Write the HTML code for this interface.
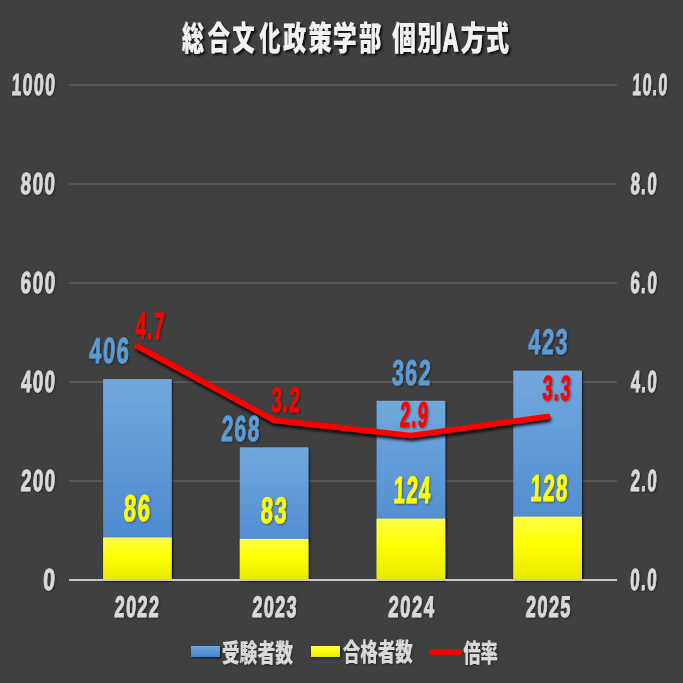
<!DOCTYPE html>
<html><head><meta charset="utf-8"><style>
html,body{margin:0;padding:0;background:#404040;}
svg{display:block;will-change:transform;}
</style></head><body>
<svg width="683" height="683" viewBox="0 0 683 683">
<defs>
<linearGradient id="gb" x1="0" y1="0" x2="0" y2="1">
<stop offset="0" stop-color="#71a8dd"/><stop offset="1" stop-color="#4483cc"/>
</linearGradient>
<linearGradient id="gy" x1="0" y1="0" x2="0" y2="1">
<stop offset="0" stop-color="#ffff48"/><stop offset="0.45" stop-color="#ffff00"/><stop offset="1" stop-color="#e8e800"/>
</linearGradient>
<filter id="sh" x="-20%" y="-20%" width="140%" height="160%">
<feGaussianBlur in="SourceAlpha" stdDeviation="1.3"/>
<feOffset dx="0.5" dy="1.2" result="o"/>
<feComponentTransfer><feFuncA type="linear" slope="0.75"/></feComponentTransfer>
<feMerge><feMergeNode/><feMergeNode in="SourceGraphic"/></feMerge>
</filter>
<filter id="lsh" x="-20%" y="-20%" width="140%" height="160%">
<feGaussianBlur in="SourceAlpha" stdDeviation="1.2"/>
<feOffset dx="0.8" dy="1.2" result="o"/>
<feComponentTransfer><feFuncA type="linear" slope="0.45"/></feComponentTransfer>
<feMerge><feMergeNode/><feMergeNode in="SourceGraphic"/></feMerge>
</filter>
<filter id="linesh" x="-10%" y="-30%" width="120%" height="160%">
<feGaussianBlur in="SourceAlpha" stdDeviation="1.6"/>
<feOffset dx="0.5" dy="2.5" result="o"/>
<feComponentTransfer><feFuncA type="linear" slope="0.85"/></feComponentTransfer>
<feMerge><feMergeNode/><feMergeNode in="SourceGraphic"/></feMerge>
</filter>
<filter id="tsh" x="-10%" y="-20%" width="120%" height="150%">
<feGaussianBlur in="SourceAlpha" stdDeviation="1"/>
<feOffset dx="2" dy="2" result="o"/>
<feComponentTransfer><feFuncA type="linear" slope="0.8"/></feComponentTransfer>
<feMerge><feMergeNode/><feMergeNode in="SourceGraphic"/></feMerge>
</filter>
</defs>
<rect x="0" y="0" width="683" height="683" fill="#404040"/>

<rect x="69" y="480.00" width="548" height="2" fill="#575757"/>
<rect x="69" y="381.00" width="548" height="2" fill="#575757"/>
<rect x="69" y="282.00" width="548" height="2" fill="#575757"/>
<rect x="69" y="183.00" width="548" height="2" fill="#575757"/>
<rect x="69" y="84.00" width="548" height="2" fill="#575757"/>
<rect x="103.10" y="379.03" width="68.6" height="200.97" fill="url(#gb)" filter="url(#sh)"/>
<rect x="239.80" y="447.34" width="68.6" height="132.66" fill="url(#gb)" filter="url(#sh)"/>
<rect x="376.60" y="400.81" width="68.6" height="179.19" fill="url(#gb)" filter="url(#sh)"/>
<rect x="513.30" y="370.62" width="68.6" height="209.38" fill="url(#gb)" filter="url(#sh)"/>
<rect x="103.10" y="537.43" width="68.6" height="42.57" fill="url(#gy)" filter="url(#sh)"/>
<rect x="239.80" y="538.91" width="68.6" height="41.09" fill="url(#gy)" filter="url(#sh)"/>
<rect x="376.60" y="518.62" width="68.6" height="61.38" fill="url(#gy)" filter="url(#sh)"/>
<rect x="513.30" y="516.64" width="68.6" height="63.36" fill="url(#gy)" filter="url(#sh)"/>
<rect x="69" y="579" width="548" height="2" fill="#c6c6c6"/>
<polyline points="137.40,346.31 274.10,420.17 410.90,435.49 547.60,416.42" fill="none" stroke="#ff0000" stroke-width="5.6" stroke-linejoin="round" stroke-linecap="round" filter="url(#linesh)"/>
<rect x="191" y="646" width="29" height="11" fill="url(#gb)" filter="url(#sh)"/>
<rect x="311" y="646" width="29" height="11" fill="url(#gy)" filter="url(#sh)"/>
<line x1="432" y1="652" x2="459" y2="652" stroke="#ff0000" stroke-width="6" stroke-linecap="round"/>
<g filter="url(#lsh)"><g transform="translate(11.15,95.35) skewX(-2.5) translate(-11.15,-95.35)"><text x="11.15" y="95.35" font-size="30.571" fill="#d9d9d9" font-weight="bold" stroke="#d9d9d9" stroke-width="1.0" stroke-linejoin="round" textLength="44.848" lengthAdjust="spacingAndGlyphs" style='font-family:"Liberation Sans", "DejaVu Sans", sans-serif;letter-spacing:2.5px;'>1000</text></g></g>
<g filter="url(#lsh)"><g transform="translate(20.20,194.35) skewX(-2.5) translate(-20.20,-194.35)"><text x="20.20" y="194.35" font-size="30.571" fill="#d9d9d9" font-weight="bold" stroke="#d9d9d9" stroke-width="1.0" stroke-linejoin="round" textLength="35.860" lengthAdjust="spacingAndGlyphs" style='font-family:"Liberation Sans", "DejaVu Sans", sans-serif;letter-spacing:2.5px;'>800</text></g></g>
<g filter="url(#lsh)"><g transform="translate(20.25,293.35) skewX(-2.5) translate(-20.25,-293.35)"><text x="20.25" y="293.35" font-size="30.571" fill="#d9d9d9" font-weight="bold" stroke="#d9d9d9" stroke-width="1.0" stroke-linejoin="round" textLength="35.894" lengthAdjust="spacingAndGlyphs" style='font-family:"Liberation Sans", "DejaVu Sans", sans-serif;letter-spacing:2.5px;'>600</text></g></g>
<g filter="url(#lsh)"><g transform="translate(20.75,392.35) skewX(-2.5) translate(-20.75,-392.35)"><text x="20.75" y="392.35" font-size="30.571" fill="#d9d9d9" font-weight="bold" stroke="#d9d9d9" stroke-width="1.0" stroke-linejoin="round" textLength="35.333" lengthAdjust="spacingAndGlyphs" style='font-family:"Liberation Sans", "DejaVu Sans", sans-serif;letter-spacing:2.5px;'>400</text></g></g>
<g filter="url(#lsh)"><g transform="translate(20.55,491.35) skewX(-2.5) translate(-20.55,-491.35)"><text x="20.55" y="491.35" font-size="30.571" fill="#d9d9d9" font-weight="bold" stroke="#d9d9d9" stroke-width="1.0" stroke-linejoin="round" textLength="35.582" lengthAdjust="spacingAndGlyphs" style='font-family:"Liberation Sans", "DejaVu Sans", sans-serif;letter-spacing:2.5px;'>200</text></g></g>
<g filter="url(#lsh)"><g transform="translate(42.80,590.35) skewX(-2.5) translate(-42.80,-590.35)"><text x="42.80" y="590.35" font-size="30.571" fill="#d9d9d9" font-weight="bold" stroke="#d9d9d9" stroke-width="1.0" stroke-linejoin="round" textLength="13.525" lengthAdjust="spacingAndGlyphs" style='font-family:"Liberation Sans", "DejaVu Sans", sans-serif;letter-spacing:2.5px;'>0</text></g></g>
<g filter="url(#lsh)"><g transform="translate(632.05,95.35) skewX(-2.5) translate(-632.05,-95.35)"><text x="632.05" y="95.35" font-size="30.571" fill="#d9d9d9" font-weight="bold" stroke="#d9d9d9" stroke-width="1.0" stroke-linejoin="round" textLength="36.095" lengthAdjust="spacingAndGlyphs" style='font-family:"Liberation Sans", "DejaVu Sans", sans-serif;letter-spacing:2.5px;'>10.0</text></g></g>
<g filter="url(#lsh)"><g transform="translate(630.20,194.35) skewX(-2.5) translate(-630.20,-194.35)"><text x="630.20" y="194.35" font-size="30.571" fill="#d9d9d9" font-weight="bold" stroke="#d9d9d9" stroke-width="1.0" stroke-linejoin="round" textLength="27.361" lengthAdjust="spacingAndGlyphs" style='font-family:"Liberation Sans", "DejaVu Sans", sans-serif;letter-spacing:2.5px;'>8.0</text></g></g>
<g filter="url(#lsh)"><g transform="translate(629.95,293.35) skewX(-2.5) translate(-629.95,-293.35)"><text x="629.95" y="293.35" font-size="30.571" fill="#d9d9d9" font-weight="bold" stroke="#d9d9d9" stroke-width="1.0" stroke-linejoin="round" textLength="27.897" lengthAdjust="spacingAndGlyphs" style='font-family:"Liberation Sans", "DejaVu Sans", sans-serif;letter-spacing:2.5px;'>6.0</text></g></g>
<g filter="url(#lsh)"><g transform="translate(630.45,392.35) skewX(-2.5) translate(-630.45,-392.35)"><text x="630.45" y="392.35" font-size="30.571" fill="#d9d9d9" font-weight="bold" stroke="#d9d9d9" stroke-width="1.0" stroke-linejoin="round" textLength="27.328" lengthAdjust="spacingAndGlyphs" style='font-family:"Liberation Sans", "DejaVu Sans", sans-serif;letter-spacing:2.5px;'>4.0</text></g></g>
<g filter="url(#lsh)"><g transform="translate(630.35,491.35) skewX(-2.5) translate(-630.35,-491.35)"><text x="630.35" y="491.35" font-size="30.571" fill="#d9d9d9" font-weight="bold" stroke="#d9d9d9" stroke-width="1.0" stroke-linejoin="round" textLength="27.327" lengthAdjust="spacingAndGlyphs" style='font-family:"Liberation Sans", "DejaVu Sans", sans-serif;letter-spacing:2.5px;'>2.0</text></g></g>
<g filter="url(#lsh)"><g transform="translate(629.85,590.35) skewX(-2.5) translate(-629.85,-590.35)"><text x="629.85" y="590.35" font-size="30.571" fill="#d9d9d9" font-weight="bold" stroke="#d9d9d9" stroke-width="1.0" stroke-linejoin="round" textLength="27.896" lengthAdjust="spacingAndGlyphs" style='font-family:"Liberation Sans", "DejaVu Sans", sans-serif;letter-spacing:2.5px;'>0.0</text></g></g>
<g filter="url(#lsh)"><g transform="translate(114.35,617.10) skewX(-2.5) translate(-114.35,-617.10)"><text x="114.35" y="617.10" font-size="29.895" fill="#d9d9d9" font-weight="bold" stroke="#d9d9d9" stroke-width="1.1" stroke-linejoin="round" textLength="45.553" lengthAdjust="spacingAndGlyphs" style='font-family:"Liberation Sans", "DejaVu Sans", sans-serif;letter-spacing:2.5px;'>2022</text></g></g>
<g filter="url(#lsh)"><g transform="translate(252.05,616.85) skewX(-2.5) translate(-252.05,-616.85)"><text x="252.05" y="616.85" font-size="29.557" fill="#d9d9d9" font-weight="bold" stroke="#d9d9d9" stroke-width="1.1" stroke-linejoin="round" textLength="45.562" lengthAdjust="spacingAndGlyphs" style='font-family:"Liberation Sans", "DejaVu Sans", sans-serif;letter-spacing:2.5px;'>2023</text></g></g>
<g filter="url(#lsh)"><g transform="translate(387.95,617.10) skewX(-2.5) translate(-387.95,-617.10)"><text x="387.95" y="617.10" font-size="29.895" fill="#d9d9d9" font-weight="bold" stroke="#d9d9d9" stroke-width="1.1" stroke-linejoin="round" textLength="47.285" lengthAdjust="spacingAndGlyphs" style='font-family:"Liberation Sans", "DejaVu Sans", sans-serif;letter-spacing:2.5px;'>2024</text></g></g>
<g filter="url(#lsh)"><g transform="translate(525.55,617.10) skewX(-2.5) translate(-525.55,-617.10)"><text x="525.55" y="617.10" font-size="29.895" fill="#d9d9d9" font-weight="bold" stroke="#d9d9d9" stroke-width="1.1" stroke-linejoin="round" textLength="46.052" lengthAdjust="spacingAndGlyphs" style='font-family:"Liberation Sans", "DejaVu Sans", sans-serif;letter-spacing:2.5px;'>2025</text></g></g>
<g filter="url(#lsh)"><g transform="translate(88.75,363.05) skewX(-2.5) translate(-88.75,-363.05)"><text x="88.75" y="363.05" font-size="36.122" fill="#5b9bd5" font-weight="bold" stroke="#5b9bd5" stroke-width="0.9" stroke-linejoin="round" textLength="41.081" lengthAdjust="spacingAndGlyphs" style='font-family:"Liberation Sans", "DejaVu Sans", sans-serif;letter-spacing:2.5px;'>406</text></g></g>
<g filter="url(#lsh)"><g transform="translate(220.90,440.85) skewX(-2.5) translate(-220.90,-440.85)"><text x="220.90" y="440.85" font-size="36.122" fill="#5b9bd5" font-weight="bold" stroke="#5b9bd5" stroke-width="0.9" stroke-linejoin="round" textLength="39.599" lengthAdjust="spacingAndGlyphs" style='font-family:"Liberation Sans", "DejaVu Sans", sans-serif;letter-spacing:2.5px;'>268</text></g></g>
<g filter="url(#lsh)"><g transform="translate(391.50,385.00) skewX(-2.5) translate(-391.50,-385.00)"><text x="391.50" y="385.00" font-size="35.788" fill="#5b9bd5" font-weight="bold" stroke="#5b9bd5" stroke-width="0.9" stroke-linejoin="round" textLength="40.098" lengthAdjust="spacingAndGlyphs" style='font-family:"Liberation Sans", "DejaVu Sans", sans-serif;letter-spacing:2.5px;'>362</text></g></g>
<g filter="url(#lsh)"><g transform="translate(528.05,353.80) skewX(-2.5) translate(-528.05,-353.80)"><text x="528.05" y="353.80" font-size="35.788" fill="#5b9bd5" font-weight="bold" stroke="#5b9bd5" stroke-width="0.9" stroke-linejoin="round" textLength="40.573" lengthAdjust="spacingAndGlyphs" style='font-family:"Liberation Sans", "DejaVu Sans", sans-serif;letter-spacing:2.5px;'>423</text></g></g>
<g filter="url(#lsh)"><g transform="translate(123.35,521.30) skewX(-2.5) translate(-123.35,-521.30)"><text x="123.35" y="521.30" font-size="37.163" fill="#ffff00" font-weight="bold" stroke="#ffff00" stroke-width="0.9" stroke-linejoin="round" textLength="27.695" lengthAdjust="spacingAndGlyphs" style='font-family:"Liberation Sans", "DejaVu Sans", sans-serif;letter-spacing:2.5px;'>86</text></g></g>
<g filter="url(#lsh)"><g transform="translate(260.25,523.15) skewX(-2.5) translate(-260.25,-523.15)"><text x="260.25" y="523.15" font-size="36.827" fill="#ffff00" font-weight="bold" stroke="#ffff00" stroke-width="0.9" stroke-linejoin="round" textLength="27.448" lengthAdjust="spacingAndGlyphs" style='font-family:"Liberation Sans", "DejaVu Sans", sans-serif;letter-spacing:2.5px;'>83</text></g></g>
<g filter="url(#lsh)"><g transform="translate(393.20,503.10) skewX(-2.5) translate(-393.20,-503.10)"><text x="393.20" y="503.10" font-size="37.854" fill="#ffff00" font-weight="bold" stroke="#ffff00" stroke-width="0.9" stroke-linejoin="round" textLength="38.089" lengthAdjust="spacingAndGlyphs" style='font-family:"Liberation Sans", "DejaVu Sans", sans-serif;letter-spacing:2.5px;'>124</text></g></g>
<g filter="url(#lsh)"><g transform="translate(530.00,501.25) skewX(-2.5) translate(-530.00,-501.25)"><text x="530.00" y="501.25" font-size="37.512" fill="#ffff00" font-weight="bold" stroke="#ffff00" stroke-width="0.9" stroke-linejoin="round" textLength="38.383" lengthAdjust="spacingAndGlyphs" style='font-family:"Liberation Sans", "DejaVu Sans", sans-serif;letter-spacing:2.5px;'>128</text></g></g>
<g filter="url(#lsh)"><g transform="translate(135.05,338.90) skewX(-2.5) translate(-135.05,-338.90)"><text x="135.05" y="338.90" font-size="37.852" fill="#ff0000" font-weight="bold" stroke="#ff0000" stroke-width="0.9" stroke-linejoin="round" textLength="29.778" lengthAdjust="spacingAndGlyphs" style='font-family:"Liberation Sans", "DejaVu Sans", sans-serif;letter-spacing:2.5px;'>4.7</text></g></g>
<g filter="url(#lsh)"><g transform="translate(271.00,411.85) skewX(-2.5) translate(-271.00,-411.85)"><text x="271.00" y="411.85" font-size="35.433" fill="#ff0000" font-weight="bold" stroke="#ff0000" stroke-width="0.9" stroke-linejoin="round" textLength="29.601" lengthAdjust="spacingAndGlyphs" style='font-family:"Liberation Sans", "DejaVu Sans", sans-serif;letter-spacing:2.5px;'>3.2</text></g></g>
<g filter="url(#lsh)"><g transform="translate(399.50,426.70) skewX(-2.5) translate(-399.50,-426.70)"><text x="399.50" y="426.70" font-size="35.773" fill="#ff0000" font-weight="bold" stroke="#ff0000" stroke-width="0.9" stroke-linejoin="round" textLength="29.324" lengthAdjust="spacingAndGlyphs" style='font-family:"Liberation Sans", "DejaVu Sans", sans-serif;letter-spacing:2.5px;'>2.9</text></g></g>
<g filter="url(#lsh)"><g transform="translate(542.00,399.95) skewX(-2.5) translate(-542.00,-399.95)"><text x="542.00" y="399.95" font-size="34.748" fill="#ff0000" font-weight="bold" stroke="#ff0000" stroke-width="0.9" stroke-linejoin="round" textLength="29.601" lengthAdjust="spacingAndGlyphs" style='font-family:"Liberation Sans", "DejaVu Sans", sans-serif;letter-spacing:2.5px;'>3.3</text></g></g>
<g filter="url(#lsh)"><text x="221.75" y="661.50" font-size="24.480" fill="#d9d9d9" font-weight="900" textLength="71.262" lengthAdjust="spacingAndGlyphs" style='font-family:"Liberation Sans", "Noto Sans CJK JP", sans-serif;'>受験者数</text></g>
<g filter="url(#lsh)"><text x="342.75" y="661.45" font-size="24.737" fill="#d9d9d9" font-weight="900" textLength="70.004" lengthAdjust="spacingAndGlyphs" style='font-family:"Liberation Sans", "Noto Sans CJK JP", sans-serif;'>合格者数</text></g>
<g filter="url(#lsh)"><text x="463.20" y="661.70" font-size="25.001" fill="#d9d9d9" font-weight="900" textLength="34.762" lengthAdjust="spacingAndGlyphs" style='font-family:"Liberation Sans", "Noto Sans CJK JP", sans-serif;'>倍率</text></g>
<g filter="url(#tsh)"><text x="181.75" y="49.95" font-size="32.650" fill="#f2f2f2" font-weight="900" textLength="22.263" lengthAdjust="spacingAndGlyphs" style='font-family:"Liberation Sans", "Noto Sans CJK JP", sans-serif;'>総</text></g>
<g filter="url(#tsh)"><text x="207.55" y="49.95" font-size="32.650" fill="#f2f2f2" font-weight="900" textLength="22.514" lengthAdjust="spacingAndGlyphs" style='font-family:"Liberation Sans", "Noto Sans CJK JP", sans-serif;'>合</text></g>
<g filter="url(#tsh)"><text x="232.30" y="49.95" font-size="32.650" fill="#f2f2f2" font-weight="900" textLength="22.537" lengthAdjust="spacingAndGlyphs" style='font-family:"Liberation Sans", "Noto Sans CJK JP", sans-serif;'>文</text></g>
<g filter="url(#tsh)"><text x="259.30" y="49.95" font-size="32.650" fill="#f2f2f2" font-weight="900" textLength="21.253" lengthAdjust="spacingAndGlyphs" style='font-family:"Liberation Sans", "Noto Sans CJK JP", sans-serif;'>化</text></g>
<g filter="url(#tsh)"><text x="282.95" y="49.95" font-size="32.650" fill="#f2f2f2" font-weight="900" textLength="23.269" lengthAdjust="spacingAndGlyphs" style='font-family:"Liberation Sans", "Noto Sans CJK JP", sans-serif;'>政</text></g>
<g filter="url(#tsh)"><text x="308.20" y="49.95" font-size="32.650" fill="#f2f2f2" font-weight="900" textLength="23.547" lengthAdjust="spacingAndGlyphs" style='font-family:"Liberation Sans", "Noto Sans CJK JP", sans-serif;'>策</text></g>
<g filter="url(#tsh)"><text x="332.75" y="49.95" font-size="32.650" fill="#f2f2f2" font-weight="900" textLength="23.955" lengthAdjust="spacingAndGlyphs" style='font-family:"Liberation Sans", "Noto Sans CJK JP", sans-serif;'>学</text></g>
<g filter="url(#tsh)"><text x="358.95" y="49.95" font-size="32.650" fill="#f2f2f2" font-weight="900" textLength="22.316" lengthAdjust="spacingAndGlyphs" style='font-family:"Liberation Sans", "Noto Sans CJK JP", sans-serif;'>部</text></g>
<g filter="url(#tsh)"><text x="391.95" y="49.95" font-size="32.650" fill="#f2f2f2" font-weight="900" textLength="23.839" lengthAdjust="spacingAndGlyphs" style='font-family:"Liberation Sans", "Noto Sans CJK JP", sans-serif;'>個</text></g>
<g filter="url(#tsh)"><text x="416.90" y="49.95" font-size="32.650" fill="#f2f2f2" font-weight="900" textLength="24.945" lengthAdjust="spacingAndGlyphs" style='font-family:"Liberation Sans", "Noto Sans CJK JP", sans-serif;'>別</text></g>
<g filter="url(#tsh)"><text x="460.60" y="49.95" font-size="32.650" fill="#f2f2f2" font-weight="900" textLength="25.352" lengthAdjust="spacingAndGlyphs" style='font-family:"Liberation Sans", "Noto Sans CJK JP", sans-serif;'>方</text></g>
<g filter="url(#tsh)"><text x="485.80" y="49.95" font-size="32.650" fill="#f2f2f2" font-weight="900" textLength="23.344" lengthAdjust="spacingAndGlyphs" style='font-family:"Liberation Sans", "Noto Sans CJK JP", sans-serif;'>式</text></g>
<g filter="url(#tsh)"><text x="442.50" y="50.60" font-size="38.046" fill="#f2f2f2" font-weight="900" stroke="#f2f2f2" stroke-width="1.4" stroke-linejoin="round" textLength="16.001" lengthAdjust="spacingAndGlyphs" style='font-family:"Liberation Sans", "Noto Sans CJK JP", sans-serif;'>A</text></g>
</svg>
</body></html>
